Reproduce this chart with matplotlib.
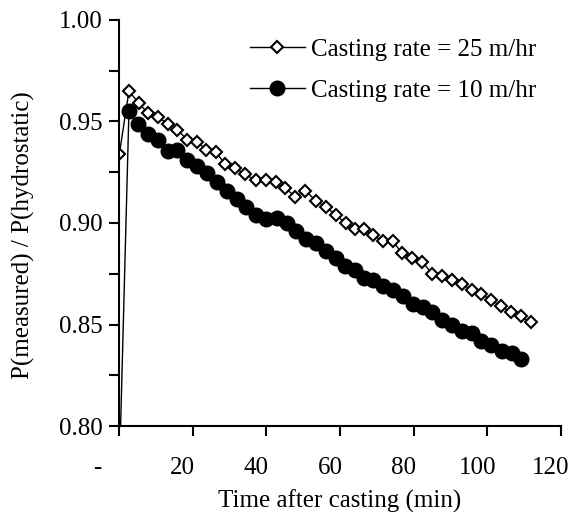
import matplotlib
matplotlib.use("Agg")
import matplotlib.pyplot as plt
import matplotlib.transforms as mtransforms

plt.rcParams['font.family'] = ['Liberation Serif', 'DejaVu Serif']

# time after casting (min) and pressure ratio
t_25 = [0.1, 2.7, 5.4, 7.9, 10.6, 13.2, 15.8, 18.5, 21.2, 23.7, 26.2, 28.9, 31.6,
        34.3, 37.1, 39.8, 42.5, 45.2, 47.9, 50.6, 53.4, 56.1, 58.8, 61.5, 64.0,
        66.5, 69.0, 71.6, 74.3, 76.9, 79.6, 82.3, 85.0, 87.8, 90.5, 93.1, 95.7,
        98.4, 101.1, 103.8, 106.4, 109.1, 111.8]
p_25 = [0.934, 0.965, 0.959, 0.954, 0.952, 0.949, 0.946, 0.941, 0.940, 0.936,
        0.935, 0.929, 0.927, 0.924, 0.921, 0.921, 0.920, 0.917, 0.913, 0.916,
        0.911, 0.908, 0.904, 0.900, 0.897, 0.897, 0.894, 0.891, 0.891, 0.885,
        0.883, 0.881, 0.875, 0.874, 0.872, 0.870, 0.867, 0.865, 0.862, 0.859,
        0.856, 0.854, 0.851]

t_10 = [0.0, 2.7, 5.1, 7.8, 10.5, 13.2, 15.8, 18.5, 21.2, 23.8, 26.5, 29.2, 31.9,
        34.6, 37.3, 40.0, 42.8, 45.5, 48.0, 50.7, 53.4, 56.2, 58.8, 61.3, 64.0,
        66.6, 68.9, 71.6, 74.3, 77.1, 79.8, 82.5, 85.0, 87.7, 90.5, 93.0, 95.7,
        98.4, 101.1, 103.9, 106.6, 109.2]
p_10 = [0.77, 0.955, 0.949, 0.944, 0.941, 0.9355, 0.936, 0.931, 0.928, 0.9245,
        0.920, 0.916, 0.912, 0.908, 0.904, 0.902, 0.9026, 0.900, 0.896, 0.892,
        0.890, 0.886, 0.883, 0.879, 0.877, 0.873, 0.872, 0.869, 0.867, 0.864,
        0.860, 0.8585, 0.856, 0.852, 0.850, 0.847, 0.846, 0.842, 0.840, 0.837,
        0.836, 0.833]

x_ticks = [0, 20, 40, 60, 80, 100, 120]
x_labels = ['-', '20', '40', '60', '80', '100', '120']
y_ticks = [0.80, 0.85, 0.90, 0.95, 1.00]
y_labels = ['0.80', '0.85', '0.90', '0.95', '1.00']

fig = plt.figure(figsize=(5.79, 5.18), dpi=100)
ax = fig.add_axes([0.2055, 0.1776, 0.7635, 0.7838])

ax.plot(t_25, p_25, color='black', lw=1.0, marker='D', ms=6.5, mfc='white',
        mec='black', mew=1.5, label='Casting rate = 25 m/hr')
ax.plot(t_10, p_10, color='black', lw=1.0, marker='o', ms=10.5, mfc='black',
        mec='black', label='Casting rate = 10 m/hr')

ax.set_xlim(0, 120)
ax.set_ylim(0.80, 1.00)

for s in ['top', 'right']:
    ax.spines[s].set_visible(False)
for s in ['left', 'bottom']:
    ax.spines[s].set_linewidth(1.5)

ax.set_xticks(x_ticks)
ax.set_xticklabels(x_labels)
ax.set_yticks(y_ticks)
ax.set_yticklabels(y_labels)
ax.set_yticks([0.825, 0.875, 0.925, 0.975], minor=True)
ax.tick_params(axis='both', which='both', direction='out', length=7, width=1.5,
               labelsize=18, colors='black')
ax.tick_params(axis='x', pad=15)
ax.tick_params(axis='y', pad=5)

# excel-style accounting labels sit a little left of their ticks
for lab in ax.get_xticklabels():
    dx = -22 if lab.get_text() == '-' else -10
    off = mtransforms.ScaledTranslation(dx / 100, 0, fig.dpi_scale_trans)
    lab.set_transform(lab.get_transform() + off)

ax.set_xlabel('Time after casting (min)', fontsize=18, labelpad=8)
ax.set_ylabel('P(measured) / P(hydrostatic)', fontsize=18)
ax.yaxis.set_label_coords(-0.19, 0.47)

ax.legend(loc='upper left', bbox_to_anchor=(0.296, 0.955), frameon=False,
          fontsize=18, handlelength=2.2, handletextpad=0.25, labelspacing=0.75,
          borderpad=0, borderaxespad=0)

fig.savefig('out.png', dpi=100)
